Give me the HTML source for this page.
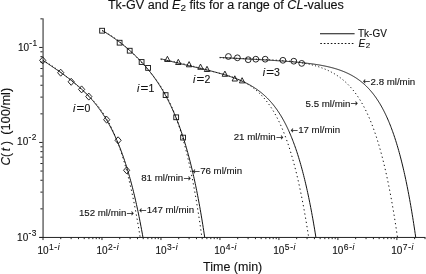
<!DOCTYPE html>
<html><head><meta charset="utf-8"><title>Tk-GV and E2 fits</title>
<style>html,body{margin:0;padding:0;background:#fff}svg{display:block}text{stroke:#111;stroke-width:0.12px;paint-order:stroke}</style></head>
<body><svg width="426" height="274" viewBox="0 0 426 274" font-family="Liberation Sans, Arial, sans-serif" fill="#111">
<rect width="426" height="274" fill="#fff"/>
<text x="107.9" y="9.3" font-size="12" textLength="236" lengthAdjust="spacingAndGlyphs">Tk-GV and <tspan font-style="italic">E</tspan><tspan dy="2" font-size="9.5">2</tspan><tspan dy="-2"> fits for a range of </tspan><tspan font-style="italic">CL</tspan>-values</text>
<rect x="42.2" y="18.35" width="1.8" height="219.60" fill="#828282"/>
<g stroke="#222" stroke-width="1">
<line x1="39.4" y1="237.45" x2="425.4" y2="237.45"/>
<line x1="43.00" y1="237.45" x2="43.00" y2="240.04999999999998"/><line x1="60.75" y1="237.45" x2="60.75" y2="239.14999999999998"/><line x1="71.14" y1="237.45" x2="71.14" y2="239.14999999999998"/><line x1="78.51" y1="237.45" x2="78.51" y2="239.14999999999998"/><line x1="84.23" y1="237.45" x2="84.23" y2="239.14999999999998"/><line x1="88.90" y1="237.45" x2="88.90" y2="239.14999999999998"/><line x1="92.84" y1="237.45" x2="92.84" y2="239.14999999999998"/><line x1="96.26" y1="237.45" x2="96.26" y2="239.14999999999998"/><line x1="99.28" y1="237.45" x2="99.28" y2="239.14999999999998"/><line x1="101.98" y1="237.45" x2="101.98" y2="240.04999999999998"/><line x1="119.73" y1="237.45" x2="119.73" y2="239.14999999999998"/><line x1="130.12" y1="237.45" x2="130.12" y2="239.14999999999998"/><line x1="137.49" y1="237.45" x2="137.49" y2="239.14999999999998"/><line x1="143.21" y1="237.45" x2="143.21" y2="239.14999999999998"/><line x1="147.88" y1="237.45" x2="147.88" y2="239.14999999999998"/><line x1="151.82" y1="237.45" x2="151.82" y2="239.14999999999998"/><line x1="155.24" y1="237.45" x2="155.24" y2="239.14999999999998"/><line x1="158.26" y1="237.45" x2="158.26" y2="239.14999999999998"/><line x1="160.96" y1="237.45" x2="160.96" y2="240.04999999999998"/><line x1="178.71" y1="237.45" x2="178.71" y2="239.14999999999998"/><line x1="189.10" y1="237.45" x2="189.10" y2="239.14999999999998"/><line x1="196.47" y1="237.45" x2="196.47" y2="239.14999999999998"/><line x1="202.19" y1="237.45" x2="202.19" y2="239.14999999999998"/><line x1="206.86" y1="237.45" x2="206.86" y2="239.14999999999998"/><line x1="210.80" y1="237.45" x2="210.80" y2="239.14999999999998"/><line x1="214.22" y1="237.45" x2="214.22" y2="239.14999999999998"/><line x1="217.24" y1="237.45" x2="217.24" y2="239.14999999999998"/><line x1="219.94" y1="237.45" x2="219.94" y2="240.04999999999998"/><line x1="237.69" y1="237.45" x2="237.69" y2="239.14999999999998"/><line x1="248.08" y1="237.45" x2="248.08" y2="239.14999999999998"/><line x1="255.45" y1="237.45" x2="255.45" y2="239.14999999999998"/><line x1="261.17" y1="237.45" x2="261.17" y2="239.14999999999998"/><line x1="265.84" y1="237.45" x2="265.84" y2="239.14999999999998"/><line x1="269.78" y1="237.45" x2="269.78" y2="239.14999999999998"/><line x1="273.20" y1="237.45" x2="273.20" y2="239.14999999999998"/><line x1="276.22" y1="237.45" x2="276.22" y2="239.14999999999998"/><line x1="278.92" y1="237.45" x2="278.92" y2="240.04999999999998"/><line x1="296.67" y1="237.45" x2="296.67" y2="239.14999999999998"/><line x1="307.06" y1="237.45" x2="307.06" y2="239.14999999999998"/><line x1="314.43" y1="237.45" x2="314.43" y2="239.14999999999998"/><line x1="320.15" y1="237.45" x2="320.15" y2="239.14999999999998"/><line x1="324.82" y1="237.45" x2="324.82" y2="239.14999999999998"/><line x1="328.76" y1="237.45" x2="328.76" y2="239.14999999999998"/><line x1="332.18" y1="237.45" x2="332.18" y2="239.14999999999998"/><line x1="335.20" y1="237.45" x2="335.20" y2="239.14999999999998"/><line x1="337.90" y1="237.45" x2="337.90" y2="240.04999999999998"/><line x1="355.65" y1="237.45" x2="355.65" y2="239.14999999999998"/><line x1="366.04" y1="237.45" x2="366.04" y2="239.14999999999998"/><line x1="373.41" y1="237.45" x2="373.41" y2="239.14999999999998"/><line x1="379.13" y1="237.45" x2="379.13" y2="239.14999999999998"/><line x1="383.80" y1="237.45" x2="383.80" y2="239.14999999999998"/><line x1="387.74" y1="237.45" x2="387.74" y2="239.14999999999998"/><line x1="391.16" y1="237.45" x2="391.16" y2="239.14999999999998"/><line x1="394.18" y1="237.45" x2="394.18" y2="239.14999999999998"/><line x1="396.88" y1="237.45" x2="396.88" y2="240.04999999999998"/><line x1="414.63" y1="237.45" x2="414.63" y2="239.14999999999998"/><line x1="425.02" y1="237.45" x2="425.02" y2="239.14999999999998"/><line x1="39.20" y1="237.45" x2="42.6" y2="237.45"/><line x1="40.40" y1="208.85" x2="42.6" y2="208.85"/><line x1="40.40" y1="192.12" x2="42.6" y2="192.12"/><line x1="40.40" y1="180.25" x2="42.6" y2="180.25"/><line x1="40.40" y1="171.05" x2="42.6" y2="171.05"/><line x1="40.40" y1="163.53" x2="42.6" y2="163.53"/><line x1="40.40" y1="157.17" x2="42.6" y2="157.17"/><line x1="40.40" y1="151.66" x2="42.6" y2="151.66"/><line x1="40.40" y1="146.80" x2="42.6" y2="146.80"/><line x1="39.20" y1="142.45" x2="42.6" y2="142.45"/><line x1="40.40" y1="113.85" x2="42.6" y2="113.85"/><line x1="40.40" y1="97.12" x2="42.6" y2="97.12"/><line x1="40.40" y1="85.25" x2="42.6" y2="85.25"/><line x1="40.40" y1="76.05" x2="42.6" y2="76.05"/><line x1="40.40" y1="68.53" x2="42.6" y2="68.53"/><line x1="40.40" y1="62.17" x2="42.6" y2="62.17"/><line x1="40.40" y1="56.66" x2="42.6" y2="56.66"/><line x1="40.40" y1="51.80" x2="42.6" y2="51.80"/><line x1="39.20" y1="47.45" x2="42.6" y2="47.45"/><line x1="40.40" y1="18.85" x2="42.6" y2="18.85"/>
</g>
<g fill="none" stroke="#111" stroke-width="1" stroke-linejoin="round">
<path d="M43.00 60.37 L43.50 60.71 L44.00 61.05 L44.50 61.38 L45.00 61.72 L45.50 62.05 L46.00 62.39 L46.50 62.73 L47.00 63.07 L47.50 63.40 L48.00 63.74 L48.50 64.08 L49.00 64.42 L49.50 64.75 L50.00 65.09 L50.50 65.43 L51.00 65.77 L51.50 66.11 L52.00 66.45 L52.50 66.79 L53.00 67.14 L53.50 67.48 L54.00 67.82 L54.50 68.16 L55.00 68.51 L55.50 68.85 L56.00 69.20 L56.50 69.55 L57.00 69.89 L57.50 70.24 L58.00 70.59 L58.50 70.94 L59.00 71.29 L59.50 71.65 L60.00 72.00 L60.50 72.36 L61.00 72.71 L61.50 73.07 L62.00 73.43 L62.50 73.79 L63.00 74.15 L63.50 74.51 L64.00 74.88 L64.50 75.24 L65.00 75.61 L65.50 75.98 L66.00 76.35 L66.50 76.72 L67.00 77.10 L67.50 77.47 L68.00 77.85 L68.50 78.23 L69.00 78.61 L69.50 79.00 L70.00 79.38 L70.50 79.77 L71.00 80.17 L71.50 80.56 L72.00 80.95 L72.50 81.35 L73.00 81.75 L73.50 82.16 L74.00 82.57 L74.50 82.97 L75.00 83.39 L75.50 83.80 L76.00 84.22 L76.50 84.64 L77.00 85.07 L77.50 85.49 L78.00 85.93 L78.50 86.36 L79.00 86.80 L79.50 87.24 L80.00 87.69 L80.50 88.14 L81.00 88.59 L81.50 89.05 L82.00 89.51 L82.50 89.98 L83.00 90.45 L83.50 90.92 L84.00 91.40 L84.50 91.88 L85.00 92.37 L85.50 92.87 L86.00 93.36 L86.50 93.87 L87.00 94.38 L87.50 94.89 L88.00 95.41 L88.50 95.93 L89.00 96.47 L89.50 97.00 L90.00 97.55 L90.50 98.09 L91.00 98.65 L91.50 99.21 L92.00 99.78 L92.50 100.35 L93.00 100.93 L93.50 101.52 L94.00 102.12 L94.50 102.72 L95.00 103.33 L95.50 103.95 L96.00 104.58 L96.50 105.21 L97.00 105.85 L97.50 106.50 L98.00 107.16 L98.50 107.83 L99.00 108.50 L99.50 109.19 L100.00 109.88 L100.50 110.59 L101.00 111.30 L101.50 112.02 L102.00 112.76 L102.50 113.50 L103.00 114.26 L103.50 115.02 L104.00 115.80 L104.50 116.58 L105.00 117.38 L105.50 118.19 L106.00 119.01 L106.50 119.84 L107.00 120.69 L107.50 121.55 L108.00 122.42 L108.50 123.30 L109.00 124.20 L109.50 125.11 L110.00 126.04 L110.50 126.98 L111.00 127.93 L111.50 128.90 L112.00 129.88 L112.50 130.88 L113.00 131.90 L113.50 132.93 L114.00 133.98 L114.50 135.04 L115.00 136.12 L115.50 137.22 L116.00 138.33 L116.50 139.47 L117.00 140.62 L117.50 141.79 L118.00 142.98 L118.50 144.19 L119.00 145.42 L119.50 146.67 L120.00 147.94 L120.50 149.23 L121.00 150.55 L121.50 151.88 L122.00 153.24 L122.50 154.62 L123.00 156.02 L123.50 157.45 L124.00 158.90 L124.50 160.38 L125.00 161.88 L125.50 163.41 L126.00 164.96 L126.50 166.54 L127.00 168.15 L127.50 169.78 L128.00 171.44 L128.50 173.13 L129.00 174.86 L129.50 176.61 L130.00 178.39 L130.50 180.20 L131.00 182.04 L131.50 183.92 L132.00 185.83 L132.50 187.77 L133.00 189.75 L133.50 191.76 L134.00 193.81 L134.50 195.89 L135.00 198.01 L135.50 200.17 L136.00 202.37 L136.50 204.61 L137.00 206.88 L137.50 209.20 L138.00 211.56 L138.50 213.96 L139.00 216.40 L139.50 218.89 L140.00 221.42 L140.50 224.00 L141.00 226.62 L141.50 229.29 L142.00 232.01 L142.50 234.78 L142.97 237.45"/><path d="M102.20 30.43 L102.70 30.73 L103.20 31.03 L103.70 31.34 L104.20 31.65 L104.70 31.96 L105.20 32.27 L105.70 32.58 L106.20 32.90 L106.70 33.22 L107.20 33.54 L107.70 33.86 L108.20 34.19 L108.70 34.51 L109.20 34.84 L109.70 35.17 L110.20 35.51 L110.70 35.84 L111.20 36.18 L111.70 36.52 L112.20 36.86 L112.70 37.21 L113.20 37.55 L113.70 37.90 L114.20 38.25 L114.70 38.61 L115.20 38.96 L115.70 39.32 L116.20 39.68 L116.70 40.05 L117.20 40.41 L117.70 40.78 L118.20 41.15 L118.70 41.53 L119.20 41.90 L119.70 42.28 L120.20 42.66 L120.70 43.05 L121.20 43.43 L121.70 43.82 L122.20 44.22 L122.70 44.61 L123.20 45.01 L123.70 45.41 L124.20 45.81 L124.70 46.22 L125.20 46.63 L125.70 47.04 L126.20 47.46 L126.70 47.88 L127.20 48.30 L127.70 48.73 L128.20 49.15 L128.70 49.59 L129.20 50.02 L129.70 50.46 L130.20 50.90 L130.70 51.35 L131.20 51.80 L131.70 52.25 L132.20 52.70 L132.70 53.16 L133.20 53.63 L133.70 54.09 L134.20 54.57 L134.70 55.04 L135.20 55.52 L135.70 56.00 L136.20 56.49 L136.70 56.98 L137.20 57.47 L137.70 57.97 L138.20 58.48 L138.70 58.99 L139.20 59.50 L139.70 60.02 L140.20 60.54 L140.70 61.06 L141.20 61.60 L141.70 62.13 L142.20 62.67 L142.70 63.22 L143.20 63.77 L143.70 64.33 L144.20 64.89 L144.70 65.45 L145.20 66.03 L145.70 66.60 L146.20 67.19 L146.70 67.78 L147.20 68.37 L147.70 68.97 L148.20 69.58 L148.70 70.19 L149.20 70.81 L149.70 71.44 L150.20 72.07 L150.70 72.71 L151.20 73.36 L151.70 74.01 L152.20 74.67 L152.70 75.34 L153.20 76.01 L153.70 76.69 L154.20 77.38 L154.70 78.08 L155.20 78.78 L155.70 79.50 L156.20 80.22 L156.70 80.95 L157.20 81.68 L157.70 82.43 L158.20 83.18 L158.70 83.95 L159.20 84.72 L159.70 85.50 L160.20 86.30 L160.70 87.10 L161.20 87.91 L161.70 88.73 L162.20 89.56 L162.70 90.41 L163.20 91.26 L163.70 92.13 L164.20 93.00 L164.70 93.89 L165.20 94.79 L165.70 95.70 L166.20 96.62 L166.70 97.56 L167.20 98.50 L167.70 99.46 L168.20 100.44 L168.70 101.43 L169.20 102.43 L169.70 103.44 L170.20 104.47 L170.70 105.52 L171.20 106.58 L171.70 107.65 L172.20 108.74 L172.70 109.85 L173.20 110.97 L173.70 112.11 L174.20 113.27 L174.70 114.44 L175.20 115.63 L175.70 116.84 L176.20 118.07 L176.70 119.31 L177.20 120.58 L177.70 121.86 L178.20 123.17 L178.70 124.50 L179.20 125.84 L179.70 127.21 L180.20 128.60 L180.70 130.02 L181.20 131.45 L181.70 132.91 L182.20 134.40 L182.70 135.90 L183.20 137.44 L183.70 139.00 L184.20 140.58 L184.70 142.19 L185.20 143.83 L185.70 145.50 L186.20 147.20 L186.70 148.92 L187.20 150.67 L187.70 152.46 L188.20 154.28 L188.70 156.12 L189.20 158.01 L189.70 159.92 L190.20 161.87 L190.70 163.85 L191.20 165.87 L191.70 167.92 L192.20 170.02 L192.70 172.15 L193.20 174.32 L193.70 176.53 L194.20 178.78 L194.70 181.07 L195.20 183.40 L195.70 185.78 L196.20 188.20 L196.70 190.67 L197.20 193.19 L197.70 195.75 L198.20 198.36 L198.70 201.02 L199.20 203.73 L199.70 206.50 L200.20 209.31 L200.70 212.19 L201.20 215.11 L201.70 218.10 L202.20 221.14 L202.70 224.25 L203.20 227.41 L203.70 230.64 L204.20 233.93 L204.70 237.28 L204.72 237.45"/><path d="M160.70 58.75 L161.20 58.88 L161.70 59.01 L162.20 59.14 L162.70 59.27 L163.20 59.40 L163.70 59.53 L164.20 59.66 L164.70 59.79 L165.20 59.91 L165.70 60.04 L166.20 60.17 L166.70 60.30 L167.20 60.42 L167.70 60.55 L168.20 60.68 L168.70 60.80 L169.20 60.93 L169.70 61.05 L170.20 61.18 L170.70 61.30 L171.20 61.43 L171.70 61.55 L172.20 61.67 L172.70 61.80 L173.20 61.92 L173.70 62.04 L174.20 62.17 L174.70 62.29 L175.20 62.41 L175.70 62.53 L176.20 62.65 L176.70 62.78 L177.20 62.90 L177.70 63.02 L178.20 63.14 L178.70 63.26 L179.20 63.38 L179.70 63.50 L180.20 63.62 L180.70 63.74 L181.20 63.86 L181.70 63.98 L182.20 64.10 L182.70 64.22 L183.20 64.34 L183.70 64.46 L184.20 64.58 L184.70 64.70 L185.20 64.82 L185.70 64.93 L186.20 65.05 L186.70 65.17 L187.20 65.29 L187.70 65.41 L188.20 65.53 L188.70 65.64 L189.20 65.76 L189.70 65.88 L190.20 66.00 L190.70 66.12 L191.20 66.23 L191.70 66.35 L192.20 66.47 L192.70 66.59 L193.20 66.71 L193.70 66.82 L194.20 66.94 L194.70 67.06 L195.20 67.18 L195.70 67.30 L196.20 67.41 L196.70 67.53 L197.20 67.65 L197.70 67.77 L198.20 67.89 L198.70 68.01 L199.20 68.13 L199.70 68.24 L200.20 68.36 L200.70 68.48 L201.20 68.60 L201.70 68.72 L202.20 68.84 L202.70 68.96 L203.20 69.08 L203.70 69.21 L204.20 69.33 L204.70 69.45 L205.20 69.57 L205.70 69.69 L206.20 69.82 L206.70 69.94 L207.20 70.06 L207.70 70.19 L208.20 70.31 L208.70 70.43 L209.20 70.56 L209.70 70.68 L210.20 70.81 L210.70 70.94 L211.20 71.06 L211.70 71.19 L212.20 71.32 L212.70 71.45 L213.20 71.58 L213.70 71.71 L214.20 71.84 L214.70 71.97 L215.20 72.10 L215.70 72.24 L216.20 72.37 L216.70 72.51 L217.20 72.64 L217.70 72.78 L218.20 72.91 L218.70 73.05 L219.20 73.19 L219.70 73.33 L220.20 73.47 L220.70 73.61 L221.20 73.76 L221.70 73.90 L222.20 74.04 L222.70 74.19 L223.20 74.34 L223.70 74.49 L224.20 74.64 L224.70 74.79 L225.20 74.94 L225.70 75.09 L226.20 75.25 L226.70 75.40 L227.20 75.56 L227.70 75.72 L228.20 75.88 L228.70 76.04 L229.20 76.21 L229.70 76.37 L230.20 76.54 L230.70 76.71 L231.20 76.88 L231.70 77.05 L232.20 77.23 L232.70 77.40 L233.20 77.58 L233.70 77.76 L234.20 77.94 L234.70 78.13 L235.20 78.31 L235.70 78.50 L236.20 78.69 L236.70 78.89 L237.20 79.08 L237.70 79.28 L238.20 79.48 L238.70 79.68 L239.20 79.89 L239.70 80.10 L240.20 80.31 L240.70 80.52 L241.20 80.74 L241.70 80.96 L242.20 81.18 L242.70 81.40 L243.20 81.63 L243.70 81.86 L244.20 82.10 L244.70 82.34 L245.20 82.58 L245.70 82.82 L246.20 83.07 L246.70 83.33 L247.20 83.58 L247.70 83.84 L248.20 84.11 L248.70 84.37 L249.20 84.64 L249.70 84.92 L250.20 85.20 L250.70 85.48 L251.20 85.77 L251.70 86.07 L252.20 86.37 L252.70 86.67 L253.20 86.98 L253.70 87.29 L254.20 87.61 L254.70 87.93 L255.20 88.26 L255.70 88.59 L256.20 88.93 L256.70 89.27 L257.20 89.62 L257.70 89.98 L258.20 90.34 L258.70 90.71 L259.20 91.08 L259.70 91.46 L260.20 91.85 L260.70 92.24 L261.20 92.64 L261.70 93.05 L262.20 93.47 L262.70 93.89 L263.20 94.32 L263.70 94.75 L264.20 95.20 L264.70 95.65 L265.20 96.11 L265.70 96.58 L266.20 97.05 L266.70 97.54 L267.20 98.03 L267.70 98.53 L268.20 99.05 L268.70 99.57 L269.20 100.10 L269.70 100.64 L270.20 101.19 L270.70 101.75 L271.20 102.32 L271.70 102.90 L272.20 103.49 L272.70 104.09 L273.20 104.70 L273.70 105.33 L274.20 105.96 L274.70 106.61 L275.20 107.27 L275.70 107.94 L276.20 108.63 L276.70 109.33 L277.20 110.04 L277.70 110.76 L278.20 111.50 L278.70 112.25 L279.20 113.01 L279.70 113.79 L280.20 114.59 L280.70 115.40 L281.20 116.22 L281.70 117.06 L282.20 117.92 L282.70 118.79 L283.20 119.68 L283.70 120.59 L284.20 121.51 L284.70 122.46 L285.20 123.42 L285.70 124.39 L286.20 125.39 L286.70 126.41 L287.20 127.44 L287.70 128.50 L288.20 129.57 L288.70 130.67 L289.20 131.79 L289.70 132.93 L290.20 134.09 L290.70 135.27 L291.20 136.48 L291.70 137.71 L292.20 138.96 L292.70 140.24 L293.20 141.54 L293.70 142.87 L294.20 144.23 L294.70 145.61 L295.20 147.02 L295.70 148.45 L296.20 149.91 L296.70 151.40 L297.20 152.92 L297.70 154.47 L298.20 156.05 L298.70 157.67 L299.20 159.31 L299.70 160.98 L300.20 162.69 L300.70 164.43 L301.20 166.21 L301.70 168.02 L302.20 169.86 L302.70 171.74 L303.20 173.66 L303.70 175.62 L304.20 177.61 L304.70 179.64 L305.20 181.72 L305.70 183.83 L306.20 185.99 L306.70 188.18 L307.20 190.43 L307.70 192.71 L308.20 195.04 L308.70 197.42 L309.20 199.84 L309.70 202.31 L310.20 204.83 L310.70 207.40 L311.20 210.02 L311.70 212.69 L312.20 215.41 L312.70 218.19 L313.20 221.02 L313.70 223.91 L314.20 226.85 L314.70 229.85 L315.20 232.91 L315.70 236.04 L315.92 237.45"/><path d="M219.70 57.42 L220.20 57.45 L220.70 57.48 L221.20 57.51 L221.70 57.53 L222.20 57.56 L222.70 57.59 L223.20 57.62 L223.70 57.65 L224.20 57.68 L224.70 57.70 L225.20 57.73 L225.70 57.76 L226.20 57.79 L226.70 57.82 L227.20 57.84 L227.70 57.87 L228.20 57.90 L228.70 57.93 L229.20 57.96 L229.70 57.98 L230.20 58.01 L230.70 58.04 L231.20 58.07 L231.70 58.10 L232.20 58.12 L232.70 58.15 L233.20 58.18 L233.70 58.21 L234.20 58.23 L234.70 58.26 L235.20 58.29 L235.70 58.32 L236.20 58.34 L236.70 58.37 L237.20 58.40 L237.70 58.43 L238.20 58.45 L238.70 58.48 L239.20 58.51 L239.70 58.54 L240.20 58.56 L240.70 58.59 L241.20 58.62 L241.70 58.65 L242.20 58.67 L242.70 58.70 L243.20 58.73 L243.70 58.76 L244.20 58.78 L244.70 58.81 L245.20 58.84 L245.70 58.87 L246.20 58.89 L246.70 58.92 L247.20 58.95 L247.70 58.97 L248.20 59.00 L248.70 59.03 L249.20 59.06 L249.70 59.08 L250.20 59.11 L250.70 59.14 L251.20 59.17 L251.70 59.19 L252.20 59.22 L252.70 59.25 L253.20 59.28 L253.70 59.31 L254.20 59.33 L254.70 59.36 L255.20 59.39 L255.70 59.42 L256.20 59.44 L256.70 59.47 L257.20 59.50 L257.70 59.53 L258.20 59.56 L258.70 59.58 L259.20 59.61 L259.70 59.64 L260.20 59.67 L260.70 59.70 L261.20 59.73 L261.70 59.75 L262.20 59.78 L262.70 59.81 L263.20 59.84 L263.70 59.87 L264.20 59.90 L264.70 59.93 L265.20 59.96 L265.70 59.99 L266.20 60.01 L266.70 60.04 L267.20 60.07 L267.70 60.10 L268.20 60.13 L268.70 60.16 L269.20 60.19 L269.70 60.22 L270.20 60.25 L270.70 60.28 L271.20 60.31 L271.70 60.34 L272.20 60.37 L272.70 60.41 L273.20 60.44 L273.70 60.47 L274.20 60.50 L274.70 60.53 L275.20 60.56 L275.70 60.59 L276.20 60.63 L276.70 60.66 L277.20 60.69 L277.70 60.72 L278.20 60.76 L278.70 60.79 L279.20 60.82 L279.70 60.86 L280.20 60.89 L280.70 60.92 L281.20 60.96 L281.70 60.99 L282.20 61.03 L282.70 61.06 L283.20 61.10 L283.70 61.13 L284.20 61.17 L284.70 61.20 L285.20 61.24 L285.70 61.28 L286.20 61.31 L286.70 61.35 L287.20 61.39 L287.70 61.43 L288.20 61.46 L288.70 61.50 L289.20 61.54 L289.70 61.58 L290.20 61.62 L290.70 61.66 L291.20 61.70 L291.70 61.74 L292.20 61.78 L292.70 61.82 L293.20 61.87 L293.70 61.91 L294.20 61.95 L294.70 62.00 L295.20 62.04 L295.70 62.08 L296.20 62.13 L296.70 62.17 L297.20 62.22 L297.70 62.27 L298.20 62.31 L298.70 62.36 L299.20 62.41 L299.70 62.46 L300.20 62.51 L300.70 62.56 L301.20 62.61 L301.70 62.66 L302.20 62.71 L302.70 62.76 L303.20 62.82 L303.70 62.87 L304.20 62.92 L304.70 62.98 L305.20 63.03 L305.70 63.09 L306.20 63.15 L306.70 63.21 L307.20 63.27 L307.70 63.33 L308.20 63.39 L308.70 63.45 L309.20 63.51 L309.70 63.57 L310.20 63.64 L310.70 63.70 L311.20 63.77 L311.70 63.84 L312.20 63.90 L312.70 63.97 L313.20 64.04 L313.70 64.11 L314.20 64.19 L314.70 64.26 L315.20 64.34 L315.70 64.41 L316.20 64.49 L316.70 64.57 L317.20 64.65 L317.70 64.73 L318.20 64.81 L318.70 64.89 L319.20 64.98 L319.70 65.06 L320.20 65.15 L320.70 65.24 L321.20 65.33 L321.70 65.42 L322.20 65.51 L322.70 65.61 L323.20 65.71 L323.70 65.80 L324.20 65.90 L324.70 66.01 L325.20 66.11 L325.70 66.21 L326.20 66.32 L326.70 66.43 L327.20 66.54 L327.70 66.65 L328.20 66.77 L328.70 66.88 L329.20 67.00 L329.70 67.12 L330.20 67.25 L330.70 67.37 L331.20 67.50 L331.70 67.63 L332.20 67.76 L332.70 67.89 L333.20 68.03 L333.70 68.17 L334.20 68.31 L334.70 68.46 L335.20 68.60 L335.70 68.75 L336.20 68.90 L336.70 69.06 L337.20 69.22 L337.70 69.38 L338.20 69.54 L338.70 69.71 L339.20 69.88 L339.70 70.05 L340.20 70.23 L340.70 70.41 L341.20 70.59 L341.70 70.78 L342.20 70.97 L342.70 71.16 L343.20 71.36 L343.70 71.56 L344.20 71.77 L344.70 71.98 L345.20 72.19 L345.70 72.40 L346.20 72.63 L346.70 72.85 L347.20 73.08 L347.70 73.32 L348.20 73.55 L348.70 73.80 L349.20 74.04 L349.70 74.30 L350.20 74.55 L350.70 74.82 L351.20 75.08 L351.70 75.36 L352.20 75.64 L352.70 75.92 L353.20 76.21 L353.70 76.50 L354.20 76.80 L354.70 77.11 L355.20 77.42 L355.70 77.74 L356.20 78.06 L356.70 78.40 L357.20 78.73 L357.70 79.08 L358.20 79.43 L358.70 79.79 L359.20 80.15 L359.70 80.52 L360.20 80.90 L360.70 81.29 L361.20 81.68 L361.70 82.09 L362.20 82.50 L362.70 82.92 L363.20 83.34 L363.70 83.78 L364.20 84.22 L364.70 84.67 L365.20 85.14 L365.70 85.61 L366.20 86.09 L366.70 86.58 L367.20 87.08 L367.70 87.59 L368.20 88.11 L368.70 88.64 L369.20 89.18 L369.70 89.73 L370.20 90.29 L370.70 90.86 L371.20 91.45 L371.70 92.05 L372.20 92.66 L372.70 93.28 L373.20 93.91 L373.70 94.56 L374.20 95.22 L374.70 95.89 L375.20 96.57 L375.70 97.27 L376.20 97.99 L376.70 98.72 L377.20 99.46 L377.70 100.22 L378.20 100.99 L378.70 101.78 L379.20 102.58 L379.70 103.40 L380.20 104.24 L380.70 105.10 L381.20 105.97 L381.70 106.86 L382.20 107.76 L382.70 108.69 L383.20 109.63 L383.70 110.59 L384.20 111.58 L384.70 112.58 L385.20 113.60 L385.70 114.64 L386.20 115.71 L386.70 116.79 L387.20 117.90 L387.70 119.03 L388.20 120.18 L388.70 121.36 L389.20 122.56 L389.70 123.79 L390.20 125.03 L390.70 126.31 L391.20 127.61 L391.70 128.94 L392.20 130.29 L392.70 131.67 L393.20 133.08 L393.70 134.52 L394.20 135.98 L394.70 137.48 L395.20 139.01 L395.70 140.56 L396.20 142.15 L396.70 143.77 L397.20 145.43 L397.70 147.11 L398.20 148.84 L398.70 150.59 L399.20 152.39 L399.70 154.22 L400.20 156.08 L400.70 157.99 L401.20 159.93 L401.70 161.91 L402.20 163.93 L402.70 166.00 L403.20 168.10 L403.70 170.25 L404.20 172.44 L404.70 174.68 L405.20 176.96 L405.70 179.29 L406.20 181.66 L406.70 184.08 L407.20 186.56 L407.70 189.08 L408.20 191.65 L408.70 194.28 L409.20 196.96 L409.70 199.70 L410.20 202.49 L410.70 205.33 L411.20 208.24 L411.70 211.20 L412.20 214.23 L412.70 217.31 L413.20 220.46 L413.70 223.67 L414.20 226.95 L414.70 230.29 L415.20 233.71 L415.70 237.19 L415.74 237.45"/>
</g>
<g fill="none" stroke="#111" stroke-width="1">
<path d="M43.00 60.48L43.92 60.98M46.03 62.17L46.94 62.71M49.03 63.97L49.93 64.54M51.99 65.87L52.88 66.47M54.91 67.86L55.79 68.48M57.80 69.93L58.67 70.58M60.66 72.08L61.52 72.74M63.49 74.28L64.34 74.96M66.30 76.53L67.15 77.22M69.10 78.81L69.94 79.51M71.88 81.12L72.72 81.82M74.65 83.45L75.49 84.16M77.41 85.80L78.24 86.51M80.16 88.17L80.99 88.89M82.90 90.57L83.72 91.30M85.61 93.01L86.42 93.76M88.28 95.52L89.09 96.30M90.91 98.12L91.70 98.92M93.48 100.81L94.24 101.65M95.97 103.62L96.71 104.50M98.38 106.55L99.09 107.47M100.70 109.61L101.38 110.56M102.91 112.79L103.57 113.77M105.03 116.07L105.66 117.09M107.05 119.47L107.65 120.51M108.98 122.95L109.54 124.02M110.81 126.52L111.35 127.61M112.55 130.16L113.07 131.28M114.22 133.87L114.70 135.00M115.80 137.63L116.27 138.78M117.31 141.44L117.76 142.61M118.75 145.30L119.18 146.48M120.13 149.20L120.54 150.38M121.46 153.13L121.84 154.33M122.72 157.09L123.09 158.30M123.93 161.08L124.29 162.29M125.10 165.09L125.44 166.31M126.22 169.13L126.55 170.35M127.30 173.18L127.62 174.41M128.34 177.25L128.65 178.49M129.34 181.34L129.64 182.58M130.31 185.44L130.60 186.69M131.25 189.56L131.52 190.80M132.15 193.68L132.42 194.93M133.03 197.82L133.29 199.07M133.88 201.96L134.13 203.22M134.70 206.12L134.95 207.38M135.50 210.28L135.74 211.54M136.28 214.45L136.51 215.71M137.03 218.62L137.26 219.89M137.77 222.81L137.99 224.08M138.48 226.99L138.69 228.27M139.18 231.19L139.39 232.46M139.86 235.39L140.06 236.66"/><path d="M102.20 30.70L103.13 31.16M105.27 32.27L106.19 32.77M108.30 33.97L109.21 34.51M111.29 35.79L112.18 36.37M114.23 37.74L115.11 38.35M117.12 39.80L117.99 40.45M119.97 41.97L120.82 42.65M122.76 44.25L123.60 44.95M125.52 46.61L126.34 47.34M128.23 49.05L129.04 49.81M130.90 51.57L131.71 52.34M133.54 54.14L134.34 54.93M136.15 56.77L136.94 57.57M138.74 59.44L139.51 60.26M141.29 62.15L142.06 62.99M143.82 64.91L144.58 65.75M146.32 67.71L147.07 68.57M148.79 70.56L149.53 71.43M151.22 73.46L151.95 74.35M153.60 76.43L154.31 77.35M155.92 79.48L156.61 80.42M158.18 82.61L158.85 83.57M160.36 85.83L161.01 86.82M162.46 89.13L163.08 90.15M164.48 92.53L165.07 93.58M166.41 96.01L166.97 97.08M168.25 99.57L168.79 100.66M170.01 103.20L170.53 104.31M171.69 106.89L172.18 108.02M173.29 110.64L173.76 111.79M174.82 114.45L175.27 115.61M176.28 118.29L176.71 119.47M177.67 122.18L178.08 123.37M179.01 126.10L179.40 127.30M180.29 130.06L180.66 131.26M181.51 134.04L181.87 135.25M182.69 138.05L183.04 139.27M183.82 142.08L184.16 143.30M184.91 146.13L185.24 147.36M185.96 150.19L186.27 151.43M186.97 154.28L187.27 155.52M187.95 158.37L188.24 159.62M188.90 162.48L189.18 163.73M189.81 166.61L190.08 167.86M190.69 170.74L190.96 171.99M191.55 174.88L191.80 176.14M192.38 179.04L192.63 180.29M193.19 183.19L193.43 184.46M193.97 187.36L194.20 188.63M194.73 191.54L194.96 192.80M195.47 195.72L195.69 196.99M196.19 199.90L196.40 201.17M196.89 204.10L197.10 205.37M197.57 208.29L197.78 209.57M198.24 212.49L198.44 213.77M198.89 216.70L199.09 217.98M199.53 220.91L199.72 222.19M200.15 225.12L200.33 226.40M200.75 229.34L200.93 230.62M201.34 233.56L201.52 234.84"/><path d="M160.70 59.47L161.69 59.61M163.98 59.94L164.97 60.10M167.26 60.47L168.25 60.63M170.53 61.04L171.52 61.22M173.79 61.65L174.78 61.85M177.05 62.32L178.04 62.53M180.31 63.03L181.29 63.25M183.55 63.78L184.54 64.02M186.80 64.58L187.78 64.82M190.04 65.40L191.02 65.66M193.27 66.26L194.25 66.52M196.50 67.13L197.48 67.39M199.73 68.01L200.71 68.28M202.96 68.89L203.94 69.16M206.19 69.77L207.17 70.03M209.42 70.63L210.40 70.89M212.66 71.49L213.64 71.75M215.89 72.34L216.87 72.60M219.13 73.19L220.10 73.45M222.36 74.06L223.34 74.33M225.58 74.96L226.56 75.25M228.80 75.93L229.77 76.23M232.00 76.97L232.97 77.31M235.18 78.12L236.14 78.49M238.33 79.38L239.28 79.80M241.45 80.79L242.38 81.25M244.52 82.36L245.44 82.86M247.54 84.08L248.45 84.64M250.50 85.98L251.38 86.59M253.39 88.06L254.25 88.73M256.19 90.32L257.03 91.04M258.91 92.75L259.71 93.53M261.53 95.36L262.30 96.18M264.05 98.13L264.79 99.00M266.46 101.05L267.18 101.97M268.77 104.12L269.45 105.07M270.98 107.31L271.62 108.30M273.08 110.62L273.69 111.64M275.07 114.03L275.66 115.09M276.98 117.54L277.53 118.62M278.79 121.13L279.32 122.23M280.51 124.79L281.02 125.91M282.15 128.51L282.63 129.65M283.72 132.28L284.18 133.44M285.21 136.11L285.65 137.28M286.64 139.98L287.06 141.16M288.00 143.88L288.40 145.07M289.31 147.82L289.69 149.02M290.56 151.79L290.93 153.00M291.76 155.79L292.11 157.00M292.91 159.81L293.25 161.03M294.02 163.85L294.35 165.08M295.09 167.91L295.41 169.14M296.12 171.98L296.43 173.22M297.11 176.07L297.41 177.32M298.07 180.18L298.36 181.42M299.00 184.29L299.28 185.54M299.90 188.42L300.17 189.68M300.77 192.56L301.03 193.82M301.61 196.71L301.86 197.97M302.43 200.87L302.67 202.13M303.22 205.03L303.46 206.29M303.99 209.20L304.22 210.47M304.74 213.38L304.97 214.65M305.47 217.56L305.69 218.83M306.18 221.75L306.40 223.02M306.88 225.95L307.08 227.22M307.55 230.15L307.75 231.42M308.21 234.35L308.40 235.62"/><path d="M219.70 57.72L220.70 57.76M223.00 57.83L224.00 57.86M226.30 57.94L227.30 57.98M229.60 58.06L230.60 58.10M232.90 58.19L233.89 58.23M236.19 58.32L237.19 58.36M239.49 58.45L240.49 58.49M242.79 58.58L243.79 58.63M246.09 58.72L247.09 58.76M249.39 58.86L250.39 58.90M252.69 59.00L253.68 59.04M255.98 59.13L256.98 59.18M259.28 59.28L260.28 59.32M262.58 59.42L263.58 59.47M265.88 59.57L266.88 59.62M269.18 59.73L270.17 59.78M272.47 59.91L273.47 59.97M275.77 60.10L276.77 60.16M279.07 60.32L280.06 60.39M282.36 60.56L283.36 60.64M285.65 60.84L286.65 60.93M288.94 61.15L289.94 61.25M292.23 61.50L293.23 61.62M295.52 61.90L296.51 62.04M298.80 62.36L299.79 62.51M302.08 62.88L303.07 63.05M305.34 63.46L306.33 63.66M308.60 64.13L309.59 64.35M311.85 64.88L312.84 65.13M315.09 65.73L316.06 66.01M318.30 66.69L319.27 67.00M321.50 67.77L322.46 68.12M324.66 68.98L325.62 69.37M327.80 70.33L328.74 70.77M330.88 71.84L331.81 72.33M333.92 73.51L334.83 74.05M336.90 75.36L337.79 75.95M339.81 77.38L340.68 78.03M342.65 79.58L343.49 80.28M345.39 81.96L346.21 82.71M348.04 84.51L348.83 85.32M350.60 87.23L351.35 88.08M353.04 90.10L353.77 91.00M355.39 93.12L356.08 94.07M357.62 96.28L358.28 97.26M359.76 99.55L360.38 100.56M361.79 102.93L362.38 103.98M363.72 106.41L364.29 107.48M365.56 109.97L366.10 111.07M367.31 113.61L367.82 114.72M368.98 117.31L369.47 118.44M370.57 121.07L371.03 122.22M372.08 124.88L372.53 126.04M373.53 128.73L373.96 129.91M374.91 132.63L375.32 133.82M376.24 136.56L376.63 137.76M377.51 140.52L377.88 141.72M378.72 144.51L379.08 145.72M379.89 148.52L380.24 149.74M381.01 152.55L381.35 153.78M382.10 156.60L382.42 157.84M383.14 160.68L383.45 161.91M384.14 164.76L384.44 166.00M385.11 168.86L385.40 170.11M386.05 172.97L386.33 174.22M386.96 177.10L387.23 178.35M387.84 181.23L388.10 182.49M388.69 185.38L388.94 186.64M389.51 189.53L389.76 190.79M390.32 193.69L390.55 194.96M391.09 197.86L391.33 199.13M391.85 202.04L392.08 203.31M392.59 206.22L392.81 207.49M393.30 210.41L393.52 211.68M394.00 214.60L394.21 215.87M394.68 218.80L394.88 220.07M395.34 223.00L395.54 224.28M395.99 227.21L396.18 228.48M396.62 231.42L396.81 232.70M397.24 235.63L397.42 236.91"/>
</g>
<path d="M39.6 60.4L42.7 56.9L45.8 60.4L42.7 63.9Z" fill="none" stroke="#111" stroke-width="0.9"/><path d="M57.6 72.7L60.7 69.2L63.8 72.7L60.7 76.2Z" fill="none" stroke="#111" stroke-width="0.9"/><path d="M68.1 81.8L71.2 78.3L74.3 81.8L71.2 85.3Z" fill="none" stroke="#111" stroke-width="0.9"/><path d="M78.5 89.4L81.6 85.9L84.7 89.4L81.6 92.9Z" fill="none" stroke="#111" stroke-width="0.9"/><path d="M85.7 96.6L88.8 93.1L91.9 96.6L88.8 100.1Z" fill="none" stroke="#111" stroke-width="0.9"/><path d="M103.6 119.7L106.7 116.2L109.8 119.7L106.7 123.2Z" fill="none" stroke="#111" stroke-width="0.9"/><path d="M115.0 140.3L118.1 136.8L121.2 140.3L118.1 143.8Z" fill="none" stroke="#111" stroke-width="0.9"/><path d="M123.5 170.3L126.6 166.8L129.7 170.3L126.6 173.8Z" fill="none" stroke="#111" stroke-width="0.9"/><rect x="99.7" y="28.3" width="4.8" height="4.8" fill="none" stroke="#111" stroke-width="0.9"/><rect x="117.2" y="40.3" width="4.8" height="4.8" fill="none" stroke="#111" stroke-width="0.9"/><rect x="127.3" y="48.3" width="4.8" height="4.8" fill="none" stroke="#111" stroke-width="0.9"/><rect x="139.2" y="59.6" width="4.8" height="4.8" fill="none" stroke="#111" stroke-width="0.9"/><rect x="145.7" y="65.5" width="4.8" height="4.8" fill="none" stroke="#111" stroke-width="0.9"/><rect x="163.2" y="92.7" width="4.8" height="4.8" fill="none" stroke="#111" stroke-width="0.9"/><rect x="173.8" y="114.9" width="4.8" height="4.8" fill="none" stroke="#111" stroke-width="0.9"/><rect x="180.7" y="135.2" width="4.8" height="4.8" fill="none" stroke="#111" stroke-width="0.9"/><path d="M164.7 61.5L167.4 56.3L170.1 61.5Z" fill="none" stroke="#111" stroke-width="0.9"/><path d="M175.6 64.5L178.3 59.3L181.0 64.5Z" fill="none" stroke="#111" stroke-width="0.9"/><path d="M186.4 66.8L189.1 61.6L191.8 66.8Z" fill="none" stroke="#111" stroke-width="0.9"/><path d="M197.8 69.3L200.5 64.1L203.2 69.3Z" fill="none" stroke="#111" stroke-width="0.9"/><path d="M204.3 71.5L207.0 66.3L209.7 71.5Z" fill="none" stroke="#111" stroke-width="0.9"/><path d="M222.2 76.3L224.9 71.1L227.6 76.3Z" fill="none" stroke="#111" stroke-width="0.9"/><path d="M232.1 81.0L234.8 75.8L237.5 81.0Z" fill="none" stroke="#111" stroke-width="0.9"/><path d="M239.4 82.9L242.1 77.7L244.8 82.9Z" fill="none" stroke="#111" stroke-width="0.9"/><circle cx="228.4" cy="56.5" r="2.9" fill="none" stroke="#111" stroke-width="0.9"/><circle cx="237.4" cy="57.8" r="2.9" fill="none" stroke="#111" stroke-width="0.9"/><circle cx="248.2" cy="59.7" r="2.9" fill="none" stroke="#111" stroke-width="0.9"/><circle cx="255.8" cy="59.2" r="2.9" fill="none" stroke="#111" stroke-width="0.9"/><circle cx="265.2" cy="59.2" r="2.9" fill="none" stroke="#111" stroke-width="0.9"/><circle cx="282.9" cy="60.3" r="2.9" fill="none" stroke="#111" stroke-width="0.9"/><circle cx="293.8" cy="61.2" r="2.9" fill="none" stroke="#111" stroke-width="0.9"/><circle cx="301.7" cy="63.4" r="2.9" fill="none" stroke="#111" stroke-width="0.9"/>
<line x1="320" y1="33.75" x2="354.6" y2="33.75" stroke="#111" stroke-width="1"/>
<line x1="320.3" y1="43.5" x2="354.6" y2="43.5" stroke="#111" stroke-width="1.1" stroke-dasharray="1.6 1.9"/>
<text x="358" y="37.1" font-size="10">Tk-GV</text>
<text x="358.6" y="46.7" font-size="10"><tspan font-style="italic">E</tspan><tspan dy="1.6" dx="0.6" font-size="8">2</tspan></text>
<text x="37.4" y="253.5" font-size="10">10<tspan dy="-3.8" dx="0.4" font-size="8.5" letter-spacing="0.6">1-<tspan font-style="italic">i</tspan></tspan></text><text x="96.4" y="253.5" font-size="10">10<tspan dy="-3.8" dx="0.4" font-size="8.5" letter-spacing="0.6">2-<tspan font-style="italic">i</tspan></tspan></text><text x="155.4" y="253.5" font-size="10">10<tspan dy="-3.8" dx="0.4" font-size="8.5" letter-spacing="0.6">3-<tspan font-style="italic">i</tspan></tspan></text><text x="214.3" y="253.5" font-size="10">10<tspan dy="-3.8" dx="0.4" font-size="8.5" letter-spacing="0.6">4-<tspan font-style="italic">i</tspan></tspan></text><text x="273.3" y="253.5" font-size="10">10<tspan dy="-3.8" dx="0.4" font-size="8.5" letter-spacing="0.6">5-<tspan font-style="italic">i</tspan></tspan></text><text x="332.3" y="253.5" font-size="10">10<tspan dy="-3.8" dx="0.4" font-size="8.5" letter-spacing="0.6">6-<tspan font-style="italic">i</tspan></tspan></text><text x="391.3" y="253.5" font-size="10">10<tspan dy="-3.8" dx="0.4" font-size="8.5" letter-spacing="0.6">7-<tspan font-style="italic">i</tspan></tspan></text><text x="17.9" y="50.9" font-size="10">10<tspan dy="-4.8" dx="0.3" font-size="8.4" letter-spacing="0.5">-1</tspan></text><text x="17.1" y="144.8" font-size="10">10<tspan dy="-4.8" dx="0.3" font-size="8.4" letter-spacing="0.5">-2</tspan></text><text x="17.1" y="240.7" font-size="10">10<tspan dy="-4.8" dx="0.3" font-size="8.4" letter-spacing="0.5">-3</tspan></text>
<text x="203.1" y="270.8" font-size="12.5" textLength="59.2" lengthAdjust="spacingAndGlyphs">Time (min)</text>
<g transform="translate(10,165.6) rotate(-90)" font-size="12"><text x="0" y="0"><tspan font-style="italic">C</tspan>(</text><text x="14.4" y="0" font-style="italic">t</text><text x="20.6" y="0">)</text><text x="30.8" y="0" textLength="47" lengthAdjust="spacingAndGlyphs">(100/ml)</text></g>
<text x="78.9" y="215.8" font-size="9.7">152 ml/min<tspan font-family="DejaVu Sans, sans-serif" font-size="9" dx="0.2" dy="-0.2">→</tspan></text><text x="138.9" y="212.8" font-size="9.7"><tspan font-family="DejaVu Sans, sans-serif" font-size="9" dy="-0.2">←</tspan><tspan dx="0.2" dy="0.2">147 ml/min</tspan></text><text x="141.2" y="180.9" font-size="9.7">81 ml/min<tspan font-family="DejaVu Sans, sans-serif" font-size="9" dx="0.2" dy="-0.2">→</tspan></text><text x="192.4" y="174.3" font-size="9.7"><tspan font-family="DejaVu Sans, sans-serif" font-size="9" dy="-0.2">←</tspan><tspan dx="0.2" dy="0.2">76 ml/min</tspan></text><text x="233.7" y="140.3" font-size="9.7">21 ml/min<tspan font-family="DejaVu Sans, sans-serif" font-size="9" dx="0.2" dy="-0.2">→</tspan></text><text x="290.4" y="133.0" font-size="9.7"><tspan font-family="DejaVu Sans, sans-serif" font-size="9" dy="-0.2">←</tspan><tspan dx="0.2" dy="0.2">17 ml/min</tspan></text><text x="305.6" y="106.6" font-size="9.7">5.5 ml/min<tspan font-family="DejaVu Sans, sans-serif" font-size="9" dx="0.2" dy="-0.2">→</tspan></text><text x="362.8" y="84.6" font-size="9.7"><tspan font-family="DejaVu Sans, sans-serif" font-size="9" dy="-0.2">←</tspan><tspan dx="0.2" dy="0.2">2.8 ml/min</tspan></text>
<text x="73.0" y="111.9" font-size="10.5" font-style="italic">i</text><text x="76.6" y="111.6" font-size="10.5" textLength="7.8" lengthAdjust="spacingAndGlyphs">=</text><text x="84.4" y="111.9" font-size="10.5">0</text><text x="137.0" y="91.9" font-size="10.5" font-style="italic">i</text><text x="140.6" y="91.6" font-size="10.5" textLength="7.8" lengthAdjust="spacingAndGlyphs">=</text><text x="148.4" y="91.9" font-size="10.5">1</text><text x="193.0" y="82.8" font-size="10.5" font-style="italic">i</text><text x="196.6" y="82.5" font-size="10.5" textLength="7.8" lengthAdjust="spacingAndGlyphs">=</text><text x="204.4" y="82.8" font-size="10.5">2</text><text x="262.7" y="75.8" font-size="10.5" font-style="italic">i</text><text x="266.3" y="75.5" font-size="10.5" textLength="7.8" lengthAdjust="spacingAndGlyphs">=</text><text x="274.1" y="75.8" font-size="10.5">3</text>
</svg></body></html>
